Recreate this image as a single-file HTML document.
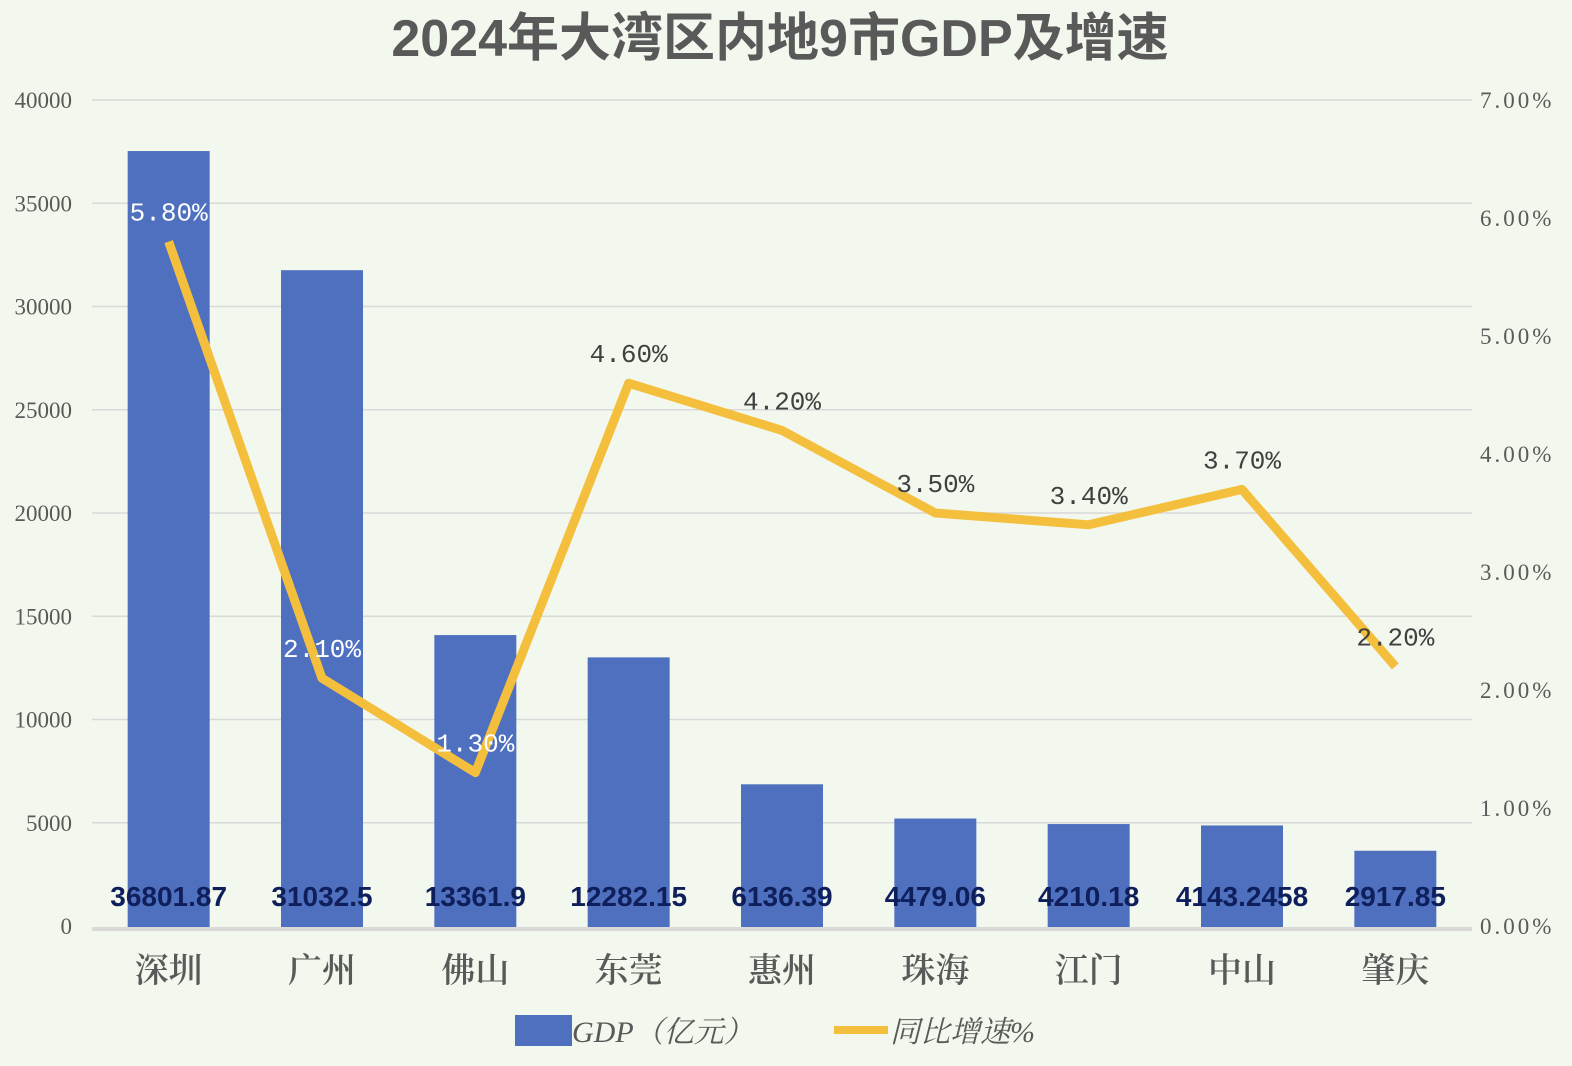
<!DOCTYPE html>
<html><head><meta charset="utf-8"><style>
body{margin:0;background:#f3f8ee;}
svg{display:block;font-family:"Liberation Serif","Noto Serif CJK SC",serif;}
</style></head><body>
<svg id="c" width="1572" height="1066" viewBox="0 0 1572 1066">
<rect width="1572" height="1066" fill="#f3f8ee"/>
<text x="780" y="56" text-anchor="middle" font-family="Liberation Sans,Noto Sans CJK SC,sans-serif" font-weight="bold" font-size="52" fill="#595959">2024年大湾区内地9市GDP及增速</text>
<g id="grid"></g><g id="bars"></g><g id="line"></g><g id="labels"></g>
<g>
<rect x="515" y="1015" width="57" height="31" fill="#4f70be"/>
<text x="572" y="1042" font-size="30" font-style="italic" fill="#595959">GDP（亿元）</text>
<line x1="834" y1="1030" x2="888" y2="1030" stroke="#f5bf3e" stroke-width="8"/>
<text x="890" y="1042" font-size="30" font-style="italic" fill="#595959">同比增速%</text>
</g>
</svg>
<script>
const categories=["深圳","广州","佛山","东莞","惠州","珠海","江门","中山","肇庆"];
const gdpValues=[36801.87,31032.5,13361.9,12282.15,6136.39,4479.06,4210.18,4143.2458,2917.85];
const gdpLabels=["36801.87","31032.5","13361.9","12282.15","6136.39","4479.06","4210.18","4143.2458","2917.85"];
const growthValues=[5.8,2.1,1.3,4.6,4.2,3.5,3.4,3.7,2.2];
const leftTicks=[0,5000,10000,15000,20000,25000,30000,35000,40000];
const rightTicks=[0,1,2,3,4,5,6,7];
const NS="http://www.w3.org/2000/svg";
const X0=92,X1=1472,Y0=926,Y1=100;
const step=(X1-X0)/categories.length;
const xc=i=>X0+step*(i+0.5);
const yL=v=>Y0-(v/40000)*(Y0-Y1);
const yR=v=>Y0-(v/7)*(Y0-Y1);
function mk(tag,attrs,parent,txt){const e=document.createElementNS(NS,tag);for(const k in attrs)e.setAttribute(k,attrs[k]);if(txt!==undefined)e.textContent=txt;document.getElementById(parent).appendChild(e);return e;}
leftTicks.forEach(t=>{
  if(t>0){const g=mk('line',{x1:X0,x2:X1,y1:yL(t),y2:yL(t),stroke:'#d9d9d9','stroke-width':1.5},'grid');
  
  }
  const l=mk('text',{x:72,y:yL(t)+8,'text-anchor':'end','font-size':23,fill:'#595959'},'grid',String(t));
  
  
});
rightTicks.forEach(t=>{
  const l=mk('text',{x:1480,y:yR(t)+8,'font-size':23,'letter-spacing':'3',fill:'#595959'},'grid',t.toFixed(2)+'%');
  
  
});
const ax=mk('line',{x1:X0,x2:X1,y1:Y0+3,y2:Y0+3,stroke:'#d9d9d9','stroke-width':4},'grid');


const bw=82,off=15;
gdpValues.forEach((v,i)=>{
  const top=yL(v)-off;
  const r=mk('rect',{x:xc(i)-bw/2,y:top,width:bw,height:Y0+1-top,fill:'#4f70be'},'bars');
  
  
  const t=mk('text',{x:xc(i),y:906,'text-anchor':'middle','font-family':'Liberation Sans,sans-serif','font-weight':'bold','font-size':28,fill:'#0f1f5c'},'labels',gdpLabels[i]);
  
  
  const c=mk('text',{x:xc(i),y:982,'text-anchor':'middle','font-size':34,'font-weight':'600',fill:'#595959','font-family':'Noto Serif CJK SC,serif'},'labels',categories[i]);
  
  
});
const pts=growthValues.map((v,i)=>xc(i)+','+yR(v)).join(' ');
const pl=mk('polyline',{points:pts,fill:'none',stroke:'#f5bf3e','stroke-width':9,'stroke-linejoin':'round'},'line');


growthValues.forEach((v,i)=>{
  const white=(i<3);
  const t=mk('text',{x:xc(i),y:yR(v)-21,'text-anchor':'middle','font-size':26,fill:white?'#ffffff':'#404040','font-family':'Liberation Mono,monospace'},'labels',v.toFixed(2)+'%');
  
  
});
</script>
</body></html>
